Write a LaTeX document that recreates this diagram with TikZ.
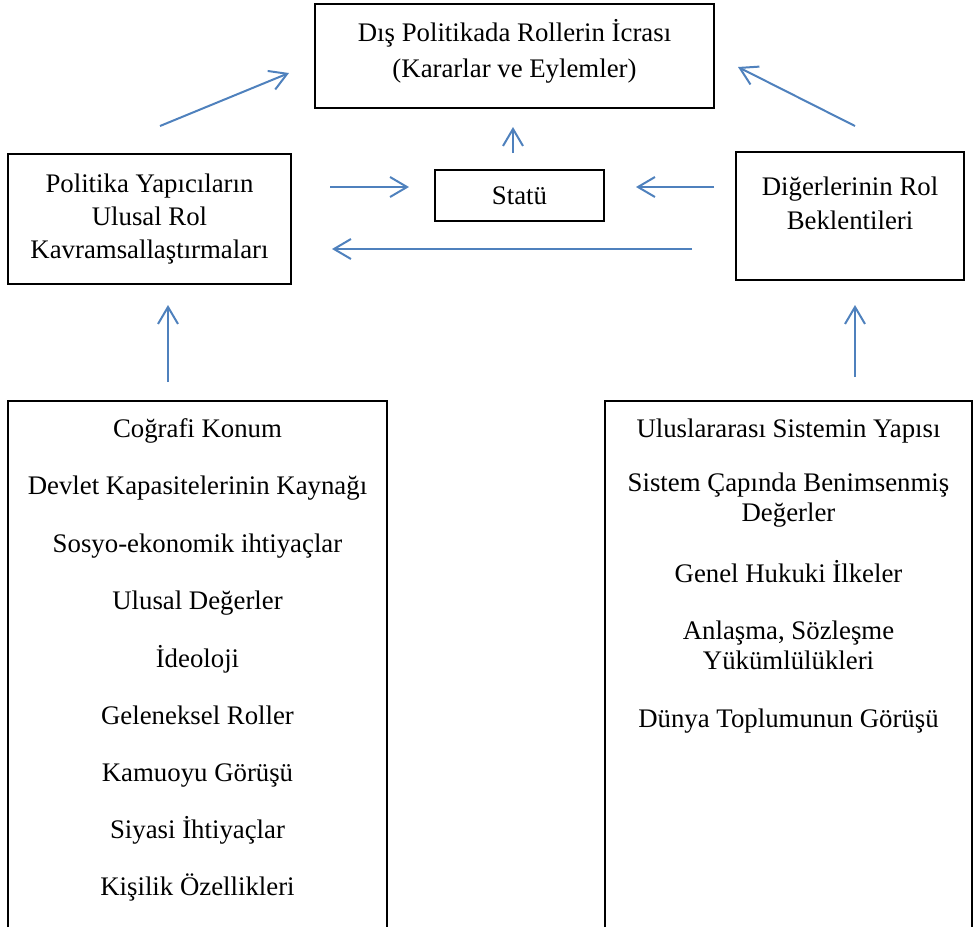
\documentclass[tikz,border=0pt]{standalone}
\usepackage{fontspec}
\setmainfont{Liberation Serif}
\usetikzlibrary{arrows.meta}
\definecolor{arrblue}{HTML}{4F81BD}
\begin{document}
\begin{tikzpicture}[x=0.5pt,y=-0.5pt,
  box/.style={draw=black,line width=0.75pt,inner sep=0pt},
  txt/.style={font=\fontsize{13.4}{16.5}\selectfont,align=center,inner sep=0pt},
  one/.style={txt,text height=11pt,text depth=2pt},
  conn/.style={draw=arrblue,line width=1pt,-{Straight Barb[length=8.5pt,width=10pt]}}]
\useasboundingbox (0,0) rectangle (973,927);
% boxes
\node[box,minimum width=199.5pt,minimum height=52pt] (top) at (514.5,56) {};
\node[box,minimum width=141.5pt,minimum height=65pt] (left) at (149.5,219) {};
\node[box,minimum width=84.5pt,minimum height=25.5pt,one] (stat) at (519.5,195.5) {Statü};
\node[box,minimum width=114pt,minimum height=64pt] (right) at (850,216) {};
% texts
\node[txt,font=\fontsize{13.4}{18}\selectfont] (toptxt) at (514.5,51) {Dış Politikada Rollerin İcrası\\(Kararlar ve Eylemler)};
\node[txt] (lefttxt) at (149.5,219) {Politika Yapıcıların\\Ulusal Rol\\Kavramsallaştırmaları};
\node[txt,font=\fontsize{13.4}{17}\selectfont] (righttxt) at (850,203) {Diğerlerinin Rol\\Beklentileri};
% bottom boxes (open at bottom edge)
\draw[line width=0.75pt] (8,927) -- (8,401) -- (387,401) -- (387,927);
\draw[line width=0.75pt] (605,927) -- (605,401) -- (972,401) -- (972,927);
\node[one] (bl1) at (197.5,428) {Coğrafi Konum};
\node[one] (bl2) at (197.5,485) {Devlet Kapasitelerinin Kaynağı};
\node[one] (bl3) at (197.5,543) {Sosyo-ekonomik ihtiyaçlar};
\node[one] (bl4) at (197.5,600) {Ulusal Değerler};
\node[one] (bl5) at (197.5,658) {İdeoloji};
\node[one] (bl6) at (197.5,715) {Geleneksel Roller};
\node[one] (bl7) at (197.5,772) {Kamuoyu Görüşü};
\node[one] (bl8) at (197.5,829) {Siyasi İhtiyaçlar};
\node[one] (bl9) at (197.5,886) {Kişilik Özellikleri};
\node[one] (br1) at (788.5,428) {Uluslararası Sistemin Yapısı};
\node[txt,font=\fontsize{13.4}{15}\selectfont] (br2) at (788.5,500) {Sistem Çapında Benimsenmiş\\Değerler};
\node[one] (br3) at (788.5,573) {Genel Hukuki İlkeler};
\node[txt,font=\fontsize{13.4}{15}\selectfont] (br4) at (788.5,645) {Anlaşma, Sözleşme\\Yükümlülükleri};
\node[one] (br5) at (788.5,718) {Dünya Toplumunun Görüşü};
% arrow endpoints
\coordinate (a1s) at (160,126); \coordinate (a1e) at (289,73);
\coordinate (a2s) at (330,187); \coordinate (a2e) at (409,187);
\coordinate (a3s) at (513,153); \coordinate (a3e) at (513,127);
\coordinate (a4s) at (714,187); \coordinate (a4e) at (636,187);
\coordinate (a5s) at (692,249); \coordinate (a5e) at (332,249);
\coordinate (a6s) at (855,126); \coordinate (a6e) at (738,67);
\coordinate (a7s) at (168,382); \coordinate (a7e) at (168,305);
\coordinate (a8s) at (855,377); \coordinate (a8e) at (855,305);
\draw[conn] (a1s) -- (a1e);
\draw[conn] (a2s) -- (a2e);
\draw[conn] (a3s) -- (a3e);
\draw[conn] (a4s) -- (a4e);
\draw[conn] (a5s) -- (a5e);
\draw[conn] (a6s) -- (a6e);
\draw[conn] (a7s) -- (a7e);
\draw[conn] (a8s) -- (a8e);
\end{tikzpicture}
\end{document}
